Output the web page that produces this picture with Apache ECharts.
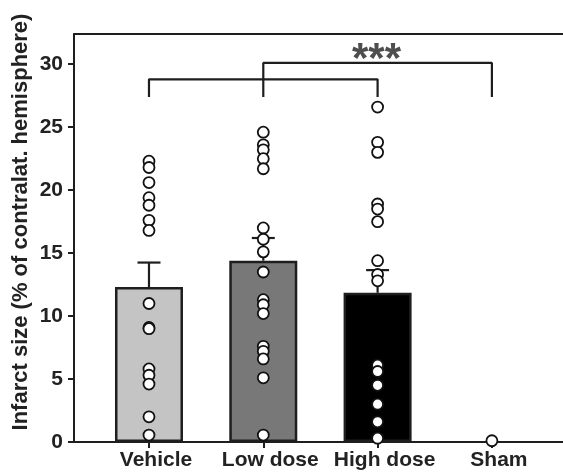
<!DOCTYPE html>
<html><head><meta charset="utf-8">
<script src="https://cdn.jsdelivr.net/npm/echarts@6/dist/echarts.min.js"></script>
<style>html,body{margin:0;padding:0;background:#fff;}#c{width:563px;height:473px;}</style>
</head><body><div id="c"></div>
<script>
const categories = ['Vehicle', 'Low dose', 'High dose', 'Sham'];
const barMeans = [12.3, 14.4, 11.85];
const barSEM = [1.95, 1.8, 1.8];
const barColors = ['#c4c4c4', '#787878', '#000000'];
const vehiclePts = [22.3, 21.8, 20.6, 19.4, 18.8, 17.6, 16.8, 11.0, 9.1, 9.0, 5.8, 5.3, 4.6, 2.0, 0.55];
const lowPts = [24.6, 23.6, 23.2, 22.5, 21.7, 17.0, 16.1, 15.1, 13.5, 11.3, 10.9, 10.2, 7.6, 7.2, 6.6, 5.1, 0.55];
const highPts = [26.6, 23.8, 23.0, 18.9, 18.5, 17.5, 14.4, 13.3, 12.8, 6.1, 5.6, 4.5, 3.0, 1.6, 0.3];
const shamPts = [0.1];
const yTicks = [0, 5, 10, 15, 20, 25, 30];
const bracket1 = [[0, 27.4], [0, 28.8], [2, 28.8], [2, 27.4]];
const bracket2 = [[1, 27.4], [1, 30.1], [3, 30.1], [3, 27.4]];
const starPos = [1.99, 30.3];
const yTitle = 'Infarct size (% of contralat. hemisphere)';

const allPts = [vehiclePts, lowPts, highPts, shamPts];
const scatterData = [];
allPts.forEach((arr, i) => arr.forEach(v => scatterData.push([i, v])));

const chart = echarts.init(document.getElementById('c'), null, {renderer: 'canvas'});
const ink = '#1e1e1e';
const font = '"Liberation Sans", Arial, sans-serif';
chart.setOption({
  animation: false,
  grid: {left: 74, right: 0, top: 34, bottom: 31},
  xAxis: [{
    type: 'value', min: -0.656, max: 3.622,
    splitLine: {show: false},
    axisLine: {onZero: false, lineStyle: {color: ink, width: 2}},
    axisTick: {customValues: [0, 1, 2, 3], length: 6, inside: false, lineStyle: {color: ink, width: 2}},
    axisLabel: {customValues: [0, 1, 2, 3], formatter: v => categories[Math.round(v)],
      fontFamily: font, fontWeight: 'bold', fontSize: 21, color: '#222', margin: 8, padding: [0, 0, 0, 14]}
  }, {
    type: 'value', position: 'top', min: -0.656, max: 3.622,
    splitLine: {show: false}, axisTick: {show: false}, axisLabel: {show: false},
    axisLine: {show: true, onZero: false, lineStyle: {color: ink, width: 2}}
  }],
  yAxis: {
    type: 'value', min: 0, max: 32.4,
    splitLine: {show: false},
    axisLine: {show: true, onZero: false, lineStyle: {color: ink, width: 2}},
    axisTick: {show: true, customValues: yTicks, length: 6, lineStyle: {color: ink, width: 2}},
    axisLabel: {customValues: yTicks, fontFamily: font, fontWeight: 'bold', fontSize: 21, color: '#222', margin: 11}
  },
  graphic: [{
    type: 'text', x: 21, y: 222, rotation: Math.PI / 2,
    style: {text: yTitle, fontFamily: font, fontWeight: 'bold', fontSize: 22, fill: '#222',
      textAlign: 'center', textVerticalAlign: 'middle'}
  }],
  series: [
    {
      type: 'bar', barWidth: 68, xAxisIndex: 0,
      data: barMeans.map((v, i) => ({value: [i, v], itemStyle: {color: barColors[i]}})),
      itemStyle: {borderColor: ink, borderWidth: 2.5}, z: 2
    },
    {
      type: 'custom', xAxisIndex: 0,
      data: barMeans.map((v, i) => [i, v, v + barSEM[i]]),
      renderItem: (params, api) => {
        const b = api.coord([api.value(0), api.value(1)]);
        const t = api.coord([api.value(0), api.value(2)]);
        const st = {stroke: ink, lineWidth: 2.2};
        return {type: 'group', children: [
          {type: 'line', shape: {x1: b[0], y1: b[1], x2: t[0], y2: t[1]}, style: st},
          {type: 'line', shape: {x1: t[0] - 11.5, y1: t[1], x2: t[0] + 11.5, y2: t[1]}, style: st}
        ]};
      }, z: 3
    },
    {
      type: 'line', data: bracket1, symbol: 'none', lineStyle: {color: ink, width: 2.2}, z: 4
    },
    {
      type: 'line', data: bracket2, symbol: 'none', lineStyle: {color: ink, width: 2.2}, z: 4
    },
    {
      type: 'scatter', data: scatterData, symbol: 'circle', symbolSize: 11,
      itemStyle: {color: '#fff', borderColor: '#111', borderWidth: 1.8, opacity: 1}, z: 5
    },
    {
      type: 'scatter', data: [starPos], symbolSize: 0, silent: true,
      label: {show: true, position: 'inside', formatter: '***', fontFamily: font, fontWeight: 'bold',
        fontSize: 42, color: '#222'}, z: 6
    }
  ]
});
</script></body></html>
